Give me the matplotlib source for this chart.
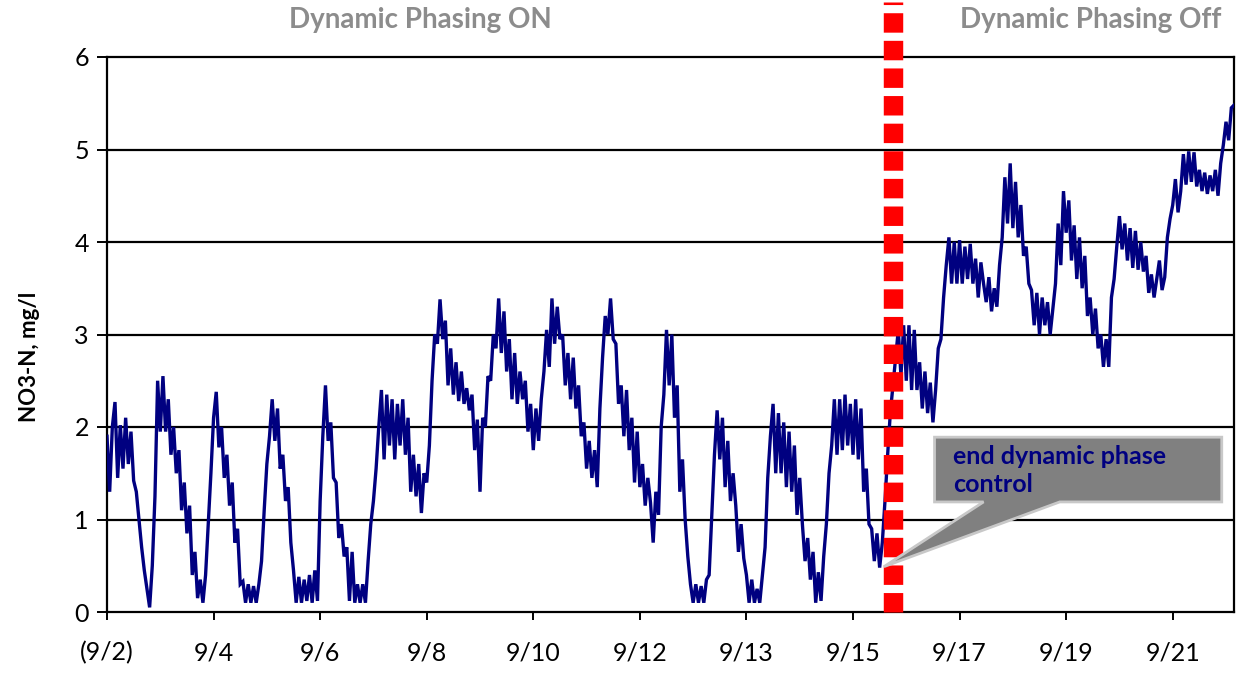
import numpy as np
import matplotlib
matplotlib.use("Agg")
import matplotlib.pyplot as plt
from matplotlib.patches import Polygon

plt.rcParams['font.family'] = ['Lato', 'DejaVu Sans']

# NO3-N readings (mg/l), one sample every 0.05 day, rows are whole days
no3_by_day = [
    # day 0
    [1.90, 1.30, 2.00, 2.27, 1.45, 2.02, 1.55, 2.10, 1.60, 1.95,
     1.42, 1.30, 1.00, 0.70, 0.45, 0.25, 0.05, 0.50, 1.25, 2.50],
    # day 1
    [1.95, 2.55, 1.95, 2.30, 1.70, 2.00, 1.50, 1.75, 1.10, 1.40,
     0.85, 1.15, 0.40, 0.65, 0.15, 0.35, 0.10, 0.40, 0.95, 1.50],
    # day 2
    [2.10, 2.38, 1.78, 2.00, 1.45, 1.70, 1.15, 1.40, 0.75, 0.90,
     0.30, 0.33, 0.10, 0.30, 0.10, 0.28, 0.10, 0.30, 0.55, 1.10],
    # day 3
    [1.60, 1.90, 2.30, 1.85, 2.20, 1.55, 1.70, 1.20, 1.35, 0.75,
     0.45, 0.10, 0.38, 0.10, 0.35, 0.12, 0.40, 0.10, 0.45, 0.12],
    # day 4
    [1.20, 1.90, 2.45, 1.85, 2.05, 1.45, 1.40, 0.80, 0.95, 0.60,
     0.70, 0.12, 0.65, 0.10, 0.30, 0.10, 0.30, 0.10, 0.55, 0.95],
    # day 5
    [1.20, 1.55, 2.00, 2.40, 1.65, 2.35, 1.80, 2.30, 1.65, 2.25,
     1.80, 2.30, 1.70, 2.10, 1.30, 1.70, 1.25, 1.60, 1.07, 1.50],
    # day 6
    [1.40, 1.80, 2.50, 3.00, 2.90, 3.38, 2.95, 3.15, 2.45, 2.85,
     2.35, 2.70, 2.28, 2.60, 2.25, 2.42, 2.18, 2.35, 1.75, 2.08],
    # day 7
    [1.30, 2.10, 2.00, 2.55, 2.50, 3.00, 2.85, 3.39, 2.80, 3.25,
     2.60, 2.95, 2.30, 2.80, 2.25, 2.60, 2.30, 2.50, 1.95, 2.25],
    # day 8
    [1.75, 2.20, 1.85, 2.30, 2.60, 3.05, 2.65, 3.39, 2.90, 3.30,
     2.95, 3.00, 2.45, 2.80, 2.30, 2.75, 2.20, 2.45, 1.90, 2.05],
    # day 9
    [1.55, 1.85, 1.45, 1.75, 1.35, 2.20, 2.75, 3.20, 3.00, 3.39,
     2.95, 2.90, 2.25, 2.45, 1.90, 2.40, 1.75, 2.10, 1.40, 1.95],
    # day 10
    [1.35, 1.60, 1.15, 1.45, 1.18, 0.75, 1.30, 1.05, 2.00, 2.35,
     3.05, 2.45, 3.00, 2.10, 2.45, 1.30, 1.65, 1.00, 0.60, 0.30],
    # day 11
    [0.10, 0.30, 0.10, 0.28, 0.10, 0.35, 0.40, 1.05, 1.70, 2.18,
     1.65, 2.10, 1.35, 1.85, 1.20, 1.50, 1.15, 0.65, 0.95, 0.58],
    # day 12
    [0.40, 0.10, 0.35, 0.10, 0.25, 0.10, 0.40, 0.70, 1.45, 1.90,
     2.25, 1.50, 2.15, 1.50, 2.05, 1.35, 1.95, 1.30, 1.80, 1.05],
    # day 13
    [1.45, 0.95, 0.55, 0.80, 0.35, 0.65, 0.10, 0.43, 0.12, 0.60,
     0.95, 1.50, 1.80, 2.30, 1.70, 2.30, 1.75, 2.35, 1.80, 2.25],
    # day 14
    [1.70, 2.30, 1.65, 2.20, 1.30, 1.55, 0.95, 0.90, 0.55, 0.85,
     0.48, 0.75, 1.20, 1.70, 2.15, 2.45, 2.75, 3.05, 2.55, 3.10],
    # day 15
    [2.50, 3.10, 2.40, 3.05, 2.40, 2.70, 2.20, 2.60, 2.15, 2.48,
     2.05, 2.40, 2.85, 2.95, 3.40, 3.75, 4.05, 3.55, 4.00, 3.55],
    # day 16
    [4.02, 3.55, 3.95, 3.60, 3.98, 3.55, 3.82, 3.40, 3.78, 3.55,
     3.35, 3.62, 3.25, 3.50, 3.30, 3.75, 4.05, 4.70, 4.20, 4.85],
    # day 17
    [4.15, 4.65, 4.05, 4.40, 3.85, 3.95, 3.55, 3.48, 3.10, 3.45,
     3.00, 3.40, 3.10, 3.35, 3.00, 3.28, 3.55, 4.20, 3.75, 4.55],
    # day 18
    [4.10, 4.45, 3.80, 4.18, 3.60, 4.05, 3.50, 3.85, 3.20, 3.40,
     3.00, 3.28, 2.85, 3.00, 2.65, 2.95, 2.65, 3.40, 3.60, 3.95],
    # day 19
    [4.28, 3.92, 4.20, 3.80, 4.15, 3.72, 4.12, 3.70, 4.00, 3.68,
     3.85, 3.45, 3.65, 3.40, 3.60, 3.80, 3.48, 3.62, 4.05, 4.25],
    # day 20
    [4.40, 4.68, 4.32, 4.55, 4.95, 4.62, 4.98, 4.65, 4.97, 4.60,
     4.78, 4.55, 4.75, 4.52, 4.72, 4.55, 4.78, 4.50, 4.85, 5.05],
    # day 21 (partial)
    [5.30, 5.10, 5.45, 5.48],
]
sample_step_days = 0.05

tick_days = [0, 2, 4, 6, 8, 10, 12, 14, 16, 18, 20]
tick_labels = ['(9/2)', '9/4', '9/6', '9/8', '9/10', '9/12',
               '9/13', '9/15', '9/17', '9/19', '9/21']
y_ticks = [0, 1, 2, 3, 4, 5, 6]

switch_day = 14.75          # dynamic phase control switched off
phase_titles = ['Dynamic Phasing ON', 'Dynamic Phasing Off']

no3 = np.concatenate([np.asarray(r) for r in no3_by_day])
days = np.arange(len(no3)) * sample_step_days

W, H = 1236, 673
fig = plt.figure(figsize=(W / 100, H / 100), dpi=100)
ax = fig.add_axes([107 / W, 1 - 612 / H, (1234 - 107) / W, (612 - 57) / H])

ax.set_xlim(0, 21.15)
ax.set_ylim(0, 6)

# horizontal gridlines
for yv in y_ticks[1:-1]:
    ax.axhline(yv, color='black', lw=1.6, zorder=1)

ax.plot(days, no3, color='#000080', lw=2.4, zorder=3, solid_joinstyle='miter')

# switch-over marker
ax.plot([switch_day, switch_day], [0, 6.6], color='#ff0000', lw=14,
        dashes=(1.0, 0.42), dash_capstyle='butt', clip_on=False, zorder=5)

# callout
callout = Polygon([(15.53, 1.89), (20.92, 1.89), (20.92, 1.19), (17.88, 1.19),
                   (14.58, 0.49), (16.45, 1.19), (15.53, 1.19)],
                  closed=True, facecolor='#808080', edgecolor='#c8c8c8',
                  lw=2, zorder=6)
ax.add_patch(callout)
ax.text(15.87, 1.53, 'end dynamic phase\ncontrol', color='#000080',
        fontsize=18, fontweight='bold', ha='left', va='center',
        linespacing=1.25, zorder=7)

for sp in ax.spines.values():
    sp.set_color('black')
    sp.set_linewidth(1.6)

ax.set_xticks(tick_days)
ax.set_xticklabels(tick_labels)
ax.set_yticks(y_ticks)
ax.tick_params(axis='x', direction='out', length=6, width=1.4, pad=15,
               labelsize=18)
ax.tick_params(axis='y', direction='out', length=7, width=1.4, pad=6,
               labelsize=18)

fig.text(420 / W, 1 - 20 / H, phase_titles[0], color='#8c8c8c',
         fontsize=20, fontweight='bold', ha='center', va='center')
fig.text(1091 / W, 1 - 20 / H, phase_titles[1], color='#8c8c8c',
         fontsize=20, fontweight='bold', ha='center', va='center')
fig.text(30 / W, 1 - 357 / H, 'NO3-N, mg/l', color='black', fontsize=16,
         fontweight='bold', rotation=90, ha='center', va='center')

fig.savefig('out.png', dpi=100)
